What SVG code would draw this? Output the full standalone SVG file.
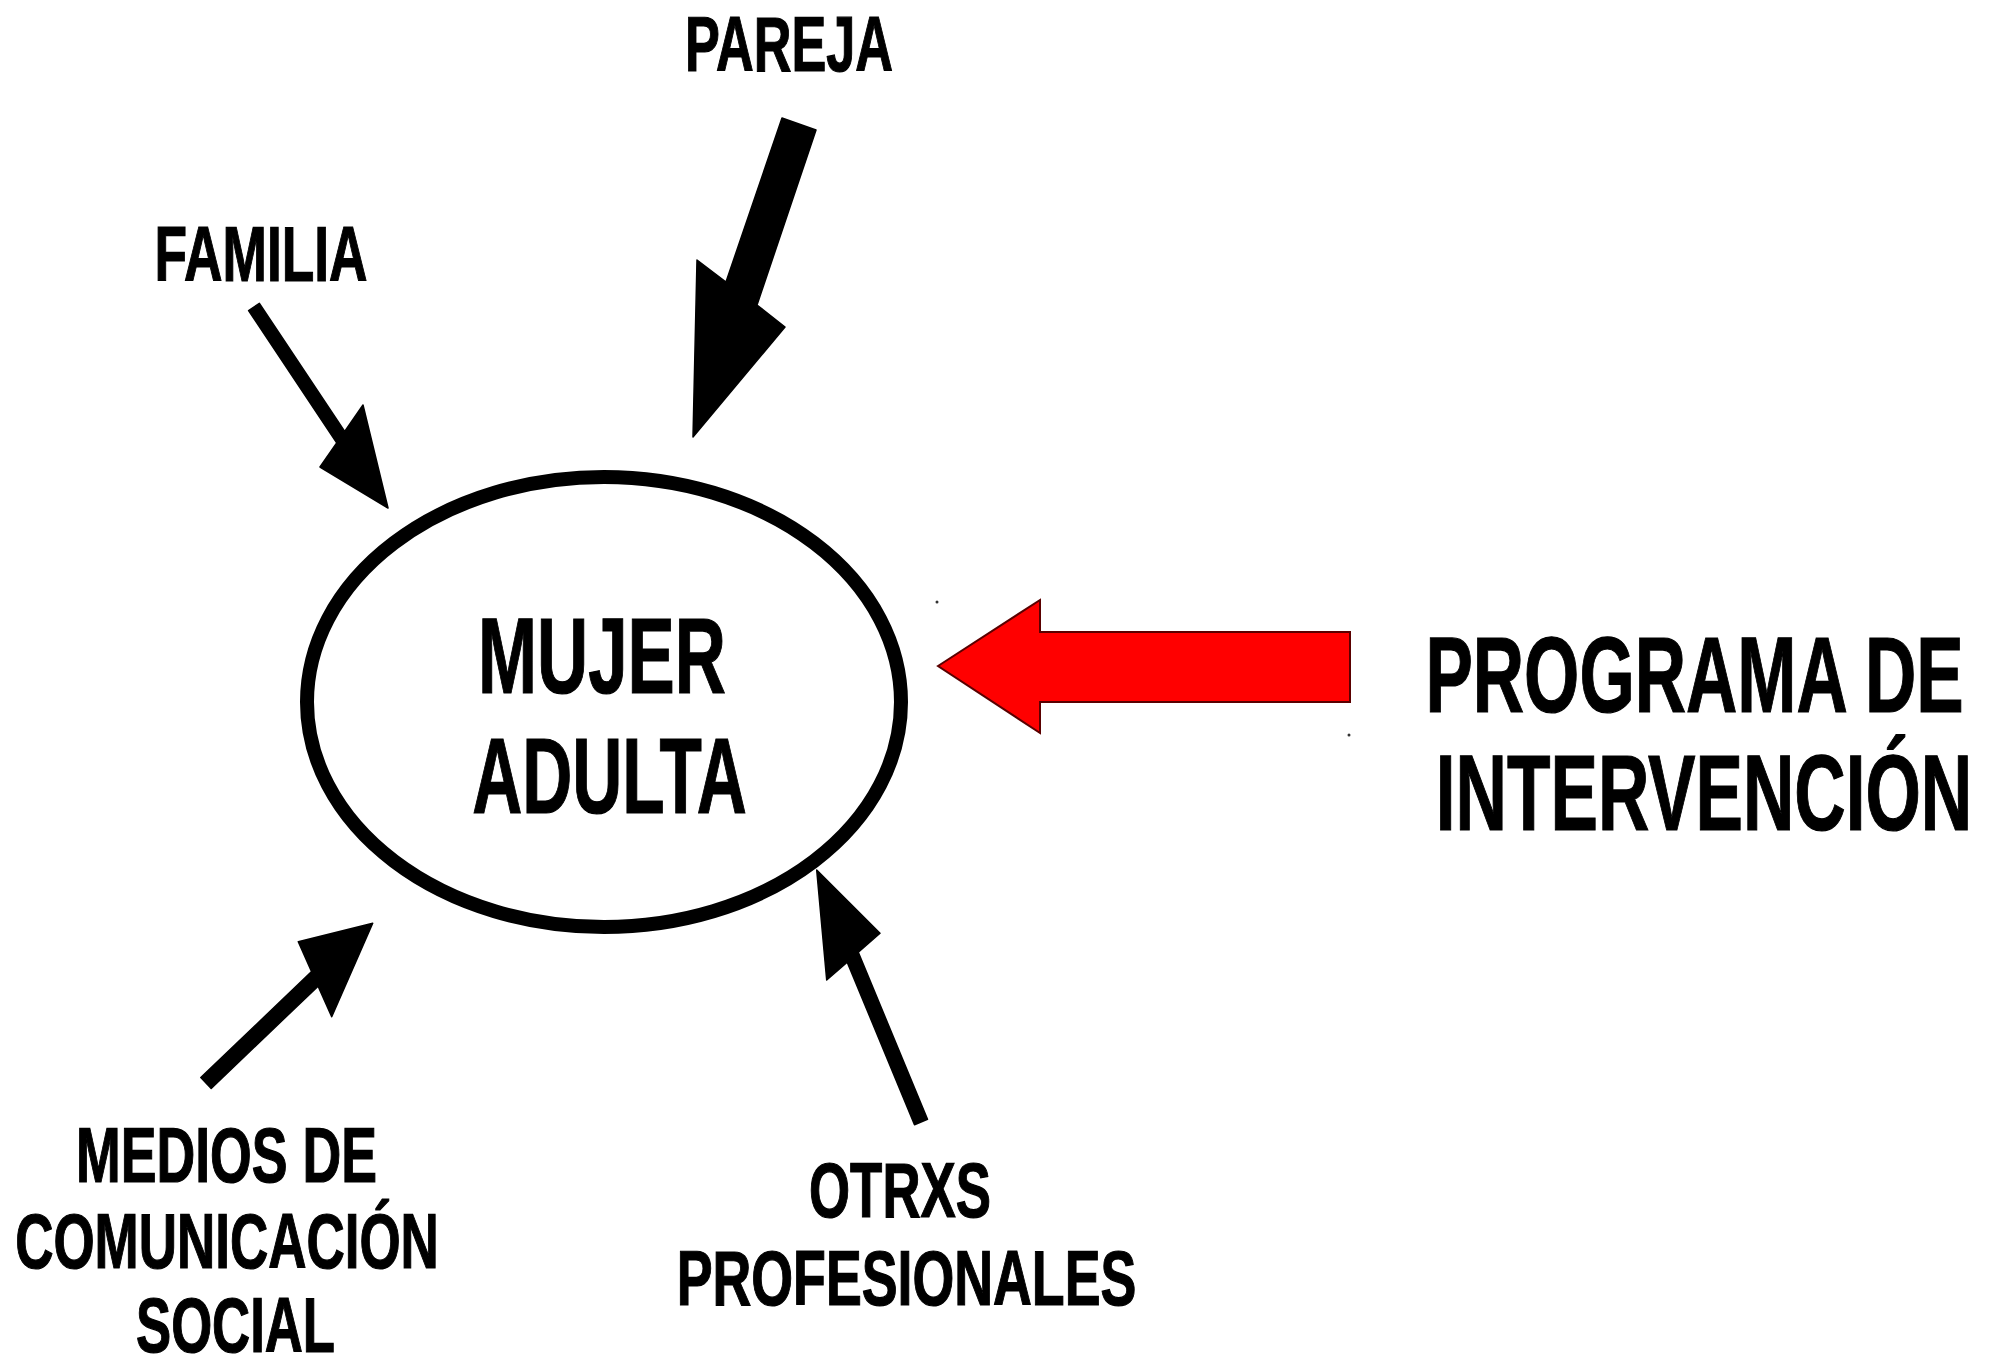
<svg xmlns="http://www.w3.org/2000/svg" width="1993" height="1369" viewBox="0 0 1993 1369">
<style>
.lbl{font-family:"Liberation Sans",Arial,sans-serif;font-weight:bold;fill:#000;stroke:#000;stroke-width:1.2;text-anchor:middle;}
.big{font-size:108px;}
.sm{font-size:77px;}
.arr{fill:#000;stroke:#000;stroke-width:1.5;stroke-linejoin:round;}
.red{fill:#ff0000;stroke:#5a0000;stroke-width:2;stroke-linejoin:miter;}
</style>
<rect width="1993" height="1369" fill="#fff"/>
<g id="connectors">
  <polygon id="arrow-pareja" class="arr" points="782,118 726,282 697,260 693,437 785,327 757,305 816,130"/>
  <polygon id="arrow-familia" class="arr" points="248.6,310.6 336.7,442.9 320,467 388,508 363,405 344.7,431.4 259.4,303.4"/>
  <polygon id="arrow-medios" class="arr" points="200.8,1077.6 311.6,971.6 298.3,941.7 372.7,923.3 331.7,1016.7 318.1,986.1 211.2,1088.4"/>
  <polygon id="arrow-otrxs" class="arr" points="914.5,1124.7 847.2,962.1 826.7,980 816.7,870 880,933.3 858.3,952.3 927.5,1119.3"/>
  <polygon id="arrow-programa" class="red" points="938,666 1040,600 1040,632 1350,632 1350,702 1040,702 1040,733"/>
  <circle cx="937" cy="602" r="1.5" fill="#333"/>
  <circle cx="1349" cy="735" r="1.5" fill="#333"/>
</g>
<g id="node-mujer">
  <ellipse cx="604" cy="702" rx="297" ry="225" fill="#fff" stroke="#000" stroke-width="14"/>
  <text class="lbl big" transform="translate(602,693) scale(0.656,1)">MUJER</text>
  <text class="lbl big" transform="translate(609.5,813) scale(0.642,1)">ADULTA</text>
</g>
<g id="node-pareja">
  <text class="lbl sm" transform="translate(789,71) scale(0.679,1)">PAREJA</text>
</g>
<g id="node-familia">
  <text class="lbl sm" transform="translate(261,281) scale(0.692,1)">FAMILIA</text>
</g>
<g id="node-programa">
  <text class="lbl big" transform="translate(1694.5,712) scale(0.658,1)">PROGRAMA DE</text>
  <text class="lbl big" transform="translate(1704,830) scale(0.659,1)">INTERVENCIÓN</text>
</g>
<g id="node-medios">
  <text class="lbl sm" transform="translate(226.5,1182) scale(0.697,1)">MEDIOS DE</text>
  <text class="lbl sm" transform="translate(227,1268) scale(0.688,1)">COMUNICACIÓN</text>
  <text class="lbl sm" transform="translate(235.5,1352) scale(0.684,1)">SOCIAL</text>
</g>
<g id="node-otrxs">
  <text class="lbl sm" transform="translate(900,1217) scale(0.686,1)">OTRXS</text>
  <text class="lbl sm" transform="translate(906.5,1305) scale(0.698,1)">PROFESIONALES</text>
</g>
</svg>
